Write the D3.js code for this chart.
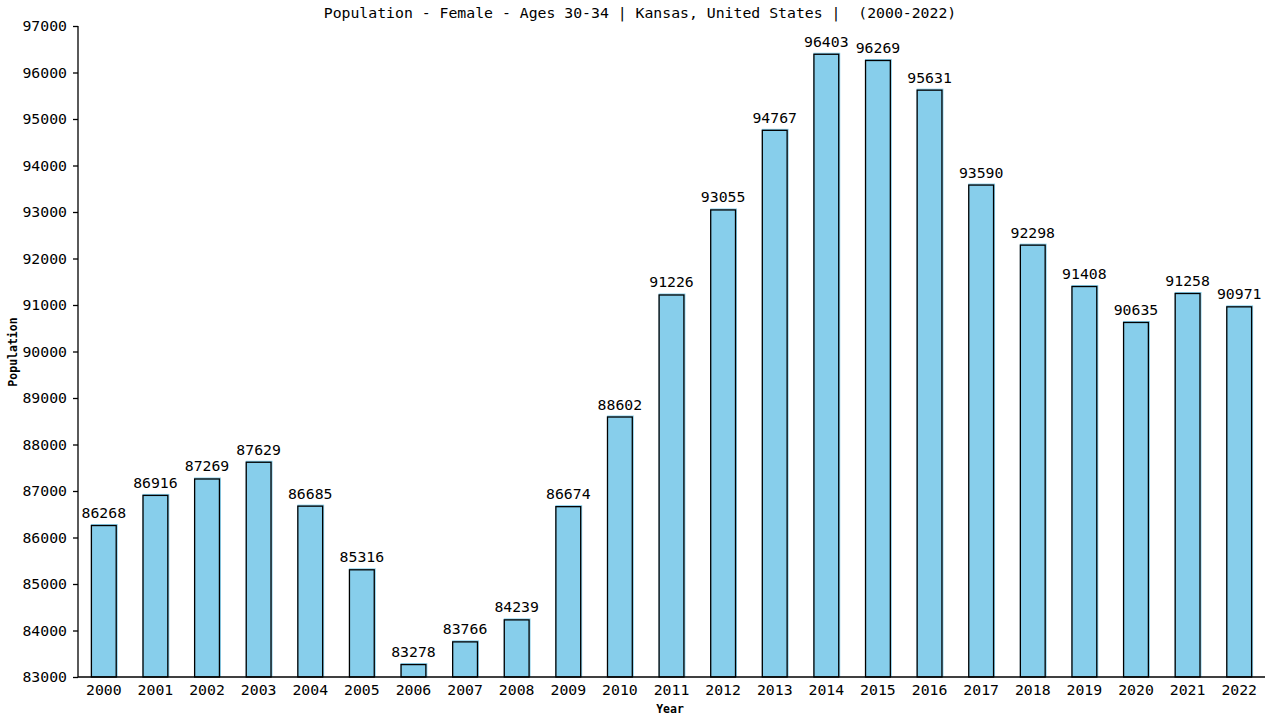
<!DOCTYPE html>
<html><head><meta charset="utf-8">
<script src="https://cdn.jsdelivr.net/npm/d3@7"></script>
<style>body{margin:0;background:#fff}svg{display:block}text{font-family:"DejaVu Sans Mono",monospace}</style>
</head><body><svg id="c" width="1280" height="720"></svg>
<script>
const years = ["2000","2001","2002","2003","2004","2005","2006","2007","2008","2009","2010","2011","2012","2013","2014","2015","2016","2017","2018","2019","2020","2021","2022"];
const population = [86268,86916,87269,87629,86685,85316,83278,83766,84239,86674,88602,91226,93055,94767,96403,96269,95631,93590,92298,91408,90635,91258,90971];
const yTicks = [83000,84000,85000,86000,87000,88000,89000,90000,91000,92000,93000,94000,95000,96000,97000];
const title = "Population - Female - Ages 30-34 | Kansas, United States |  (2000-2022)";

const svg = d3.select("#c");
const L = 78, R = 1265, T = 26, B = 677;
const FS = 14.8;
const x = d3.scaleBand().domain(years).range([L, R]).paddingInner(0.5).paddingOuter(0.25);
const y = d3.scaleLinear().domain([83000, 97000]).range([B, T]);

const bars = svg.append("g");
bars.selectAll("rect.f").data(years).join("rect").attr("class","f")
  .attr("x", d => x(d)).attr("y", (d,i) => y(population[i]) - 1)
  .attr("width", x.bandwidth() + 1).attr("height", (d,i) => B - y(population[i]) + 1)
  .attr("fill", "#87ceeb");
bars.selectAll("rect.s").data(years).join("rect").attr("class","s")
  .attr("x", d => x(d) + 0.5).attr("y", (d,i) => y(population[i]) + 0.5)
  .attr("width", x.bandwidth() - 1).attr("height", (d,i) => B - y(population[i]) - 0.5)
  .attr("fill", "none").attr("stroke", "#000").attr("stroke-width", 1.3);

bars.selectAll("text.v").data(years).join("text").attr("class","v")
  .attr("x", d => x(d) + x.bandwidth()/2).attr("y", (d,i) => y(population[i]) - 7)
  .attr("text-anchor","middle").attr("font-size", FS).attr("fill","#000")
  .text((d,i) => population[i]);

const yAxis = svg.append("g").attr("transform", `translate(${L},0)`)
  .call(d3.axisLeft(y).tickValues(yTicks).tickFormat(d3.format("d")).tickSize(5).tickPadding(6));
yAxis.selectAll("text").attr("font-size", FS).attr("font-family","DejaVu Sans Mono").attr("fill","#000");
yAxis.select(".domain").attr("d", `M0,${T}V${B}`).attr("stroke","#000").attr("stroke-width",1.3);
yAxis.selectAll(".tick line").attr("stroke","#000").attr("stroke-width",1.3);

const xAxis = svg.append("g").attr("transform", `translate(0,${B})`)
  .call(d3.axisBottom(x).tickSize(0).tickPadding(7));
xAxis.selectAll("text").attr("font-size", FS).attr("font-family","DejaVu Sans Mono").attr("fill","#000");
xAxis.select(".domain").attr("d", `M${L},0H${R}`).attr("stroke","#000").attr("stroke-width",1.3);

svg.append("text").attr("x", 640).attr("y", 18).attr("text-anchor","middle")
  .attr("font-size", FS).attr("fill","#000").style("white-space","pre").text(title);
svg.append("text").attr("x", 670).attr("y", 713).attr("text-anchor","middle")
  .attr("font-size", 11.5).attr("font-weight","bold").text("Year");
svg.append("text").attr("transform","translate(17,352) rotate(-90)").attr("text-anchor","middle")
  .attr("font-size", 11.5).attr("font-weight","bold").text("Population");
</script></body></html>
